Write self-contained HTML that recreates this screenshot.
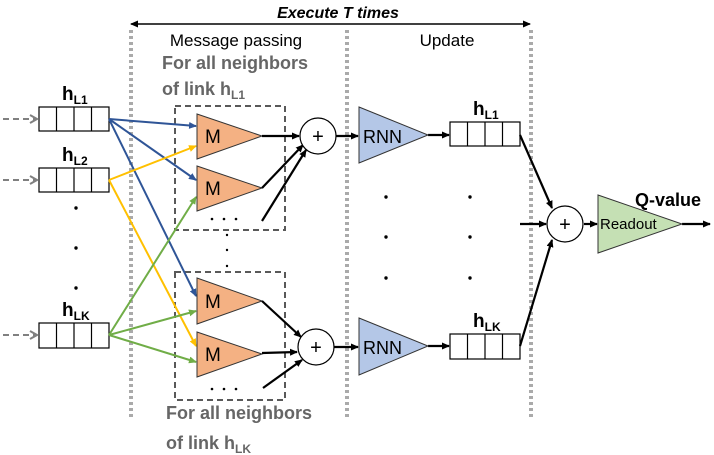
<!DOCTYPE html>
<html><head><meta charset="utf-8"><style>
html,body{margin:0;padding:0;background:#fff;}
svg{display:block;font-family:"Liberation Sans","DejaVu Sans",sans-serif;}
</style></head><body>
<svg width="714" height="455" viewBox="0 0 714 455" xmlns="http://www.w3.org/2000/svg">
<defs>
<marker id="ak" markerWidth="8" markerHeight="8" refX="7" refY="4" orient="auto" markerUnits="userSpaceOnUse"><path d="M0,0.5 L8,4 L0,7.5 Z" fill="#000"/></marker>
<marker id="ab" markerWidth="8" markerHeight="8" refX="7" refY="4" orient="auto" markerUnits="userSpaceOnUse"><path d="M0,0.5 L8,4 L0,7.5 Z" fill="#2f5597"/></marker>
<marker id="ay" markerWidth="8" markerHeight="8" refX="7" refY="4" orient="auto" markerUnits="userSpaceOnUse"><path d="M0,0.5 L8,4 L0,7.5 Z" fill="#ffc000"/></marker>
<marker id="ag" markerWidth="8" markerHeight="8" refX="7" refY="4" orient="auto" markerUnits="userSpaceOnUse"><path d="M0,0.5 L8,4 L0,7.5 Z" fill="#70ad47"/></marker>
<marker id="agr" markerWidth="9" markerHeight="10" refX="8" refY="5" orient="auto" markerUnits="userSpaceOnUse"><path d="M1,1 L8,5 L1,9" fill="none" stroke="#808080" stroke-width="2"/></marker>
<marker id="as" markerWidth="8" markerHeight="8" refX="1" refY="4" orient="auto" markerUnits="userSpaceOnUse"><path d="M8,0.5 L0,4 L8,7.5 Z" fill="#000"/></marker>
</defs>

<text x="338" y="18" font-size="16" font-weight="bold" font-style="italic" text-anchor="middle">Execute T times</text>
<line x1="131" y1="24" x2="530" y2="24" stroke="#000" stroke-width="1.5" marker-start="url(#as)" marker-end="url(#ak)"/>

<g stroke="#aaa" stroke-width="4" stroke-dasharray="3,3">
<line x1="131" y1="30" x2="131" y2="418"/>
<line x1="347" y1="30" x2="347" y2="418"/>
<line x1="531" y1="30" x2="531" y2="418"/>
</g>

<text x="236" y="46" font-size="17" text-anchor="middle">Message passing</text>
<text x="447" y="46" font-size="17" text-anchor="middle">Update</text>
<text x="162" y="69" font-size="18" font-weight="bold" fill="#666">For all neighbors</text>
<text x="162" y="95" font-size="18" font-weight="bold" fill="#666">of link h<tspan font-size="12" dy="4">L1</tspan></text>
<text x="166" y="419" font-size="18" font-weight="bold" fill="#666">For all neighbors</text>
<text x="166" y="449" font-size="18" font-weight="bold" fill="#666">of link h<tspan font-size="12" dy="4">LK</tspan></text>

<rect x="175" y="106" width="110" height="124" fill="none" stroke="#595959" stroke-width="2" stroke-dasharray="6,4"/>
<rect x="175" y="272" width="110" height="128" fill="none" stroke="#595959" stroke-width="2" stroke-dasharray="6,4"/>

<g stroke="#000" stroke-width="1.2" fill="#fff">
<rect x="39" y="107" width="70" height="24"/><line x1="56.5" y1="107" x2="56.5" y2="131"/><line x1="74" y1="107" x2="74" y2="131"/><line x1="91.5" y1="107" x2="91.5" y2="131"/>
<rect x="39" y="168" width="70" height="24"/><line x1="56.5" y1="168" x2="56.5" y2="192"/><line x1="74" y1="168" x2="74" y2="192"/><line x1="91.5" y1="168" x2="91.5" y2="192"/>
<rect x="39" y="323" width="70" height="25"/><line x1="56.5" y1="323" x2="56.5" y2="348"/><line x1="74" y1="323" x2="74" y2="348"/><line x1="91.5" y1="323" x2="91.5" y2="348"/>
<rect x="450" y="122" width="70" height="24"/><line x1="467.5" y1="122" x2="467.5" y2="146"/><line x1="485" y1="122" x2="485" y2="146"/><line x1="502.5" y1="122" x2="502.5" y2="146"/>
<rect x="450" y="334" width="70" height="25"/><line x1="467.5" y1="334" x2="467.5" y2="359"/><line x1="485" y1="334" x2="485" y2="359"/><line x1="502.5" y1="334" x2="502.5" y2="359"/>
</g>
<text x="62" y="100" font-size="19" font-weight="bold">h<tspan font-size="12" dy="4">L1</tspan></text>
<text x="62" y="161" font-size="19" font-weight="bold">h<tspan font-size="12" dy="4">L2</tspan></text>
<text x="62" y="316" font-size="19" font-weight="bold">h<tspan font-size="12" dy="4">LK</tspan></text>
<text x="473" y="115" font-size="19" font-weight="bold">h<tspan font-size="12" dy="4">L1</tspan></text>
<text x="473" y="327" font-size="19" font-weight="bold">h<tspan font-size="12" dy="4">LK</tspan></text>

<g stroke="#808080" stroke-width="2" stroke-dasharray="6,4">
<line x1="3" y1="119" x2="37" y2="119" marker-end="url(#agr)"/>
<line x1="3" y1="180" x2="37" y2="180" marker-end="url(#agr)"/>
<line x1="3" y1="335" x2="37" y2="335" marker-end="url(#agr)"/>
</g>

<g fill="#000">
<circle cx="76" cy="208" r="1.7"/><circle cx="76" cy="248" r="1.7"/><circle cx="76" cy="288" r="1.7"/>
<circle cx="386" cy="197" r="1.7"/><circle cx="386" cy="237" r="1.7"/><circle cx="386" cy="278" r="1.7"/>
<circle cx="470" cy="197" r="1.7"/><circle cx="470" cy="237" r="1.7"/><circle cx="470" cy="278" r="1.7"/>
<circle cx="227" cy="235" r="1.2"/><circle cx="227" cy="250" r="1.2"/><circle cx="227" cy="266" r="1.2"/>
<circle cx="212" cy="219" r="1.3"/><circle cx="224" cy="219" r="1.3"/><circle cx="236" cy="219" r="1.3"/>
<circle cx="212" cy="389" r="1.3"/><circle cx="224" cy="389" r="1.3"/><circle cx="236" cy="389" r="1.3"/>
</g>

<g stroke-width="2" fill="none">
<line x1="109" y1="119" x2="196" y2="126" stroke="#2f5597" marker-end="url(#ab)"/>
<line x1="109" y1="119" x2="196" y2="180" stroke="#2f5597" marker-end="url(#ab)"/>
<line x1="109" y1="119" x2="196" y2="296" stroke="#2f5597" marker-end="url(#ab)"/>
<line x1="109" y1="180" x2="196" y2="146" stroke="#ffc000" marker-end="url(#ay)"/>
<line x1="109" y1="180" x2="196" y2="346" stroke="#ffc000" marker-end="url(#ay)"/>
<line x1="109" y1="335" x2="196" y2="197" stroke="#70ad47" marker-end="url(#ag)"/>
<line x1="109" y1="335" x2="196" y2="311" stroke="#70ad47" marker-end="url(#ag)"/>
<line x1="109" y1="335" x2="196" y2="362" stroke="#70ad47" marker-end="url(#ag)"/>
</g>

<g fill="#f4b183" stroke="#333" stroke-width="1">
<polygon points="197,114 262,136 197,159"/>
<polygon points="197,166 262,188 197,211"/>
<polygon points="197,278 262,301 197,324"/>
<polygon points="197,332 262,354 197,377"/>
</g>
<g font-size="19" fill="#000">
<text x="205" y="143">M</text><text x="205" y="195">M</text><text x="205" y="308">M</text><text x="205" y="361">M</text>
</g>

<g stroke="#000" stroke-width="2.2" fill="none">
<line x1="262" y1="136" x2="299" y2="136" marker-end="url(#ak)"/>
<line x1="262" y1="188" x2="303" y2="145" marker-end="url(#ak)"/>
<line x1="262" y1="221" x2="306" y2="150" marker-end="url(#ak)"/>
<line x1="262" y1="301" x2="301" y2="337" marker-end="url(#ak)"/>
<line x1="262" y1="353" x2="297" y2="352" marker-end="url(#ak)"/>
<line x1="263" y1="388" x2="302" y2="360" marker-end="url(#ak)"/>
<line x1="336" y1="136" x2="358" y2="136" marker-end="url(#ak)"/>
<line x1="334" y1="347" x2="358" y2="347" marker-end="url(#ak)"/>
<line x1="428" y1="135" x2="449" y2="135" marker-end="url(#ak)"/>
<line x1="428" y1="346" x2="449" y2="346" marker-end="url(#ak)"/>
<line x1="520" y1="135" x2="552" y2="208" marker-end="url(#ak)"/>
<line x1="520" y1="346" x2="552" y2="240" marker-end="url(#ak)"/>
<line x1="520" y1="224" x2="546" y2="224" marker-end="url(#ak)"/>
<line x1="584" y1="224" x2="597" y2="224" marker-end="url(#ak)"/>
<line x1="682" y1="224" x2="710" y2="224" marker-end="url(#ak)"/>
</g>

<g fill="#fff" stroke="#000" stroke-width="1.2">
<circle cx="318" cy="136" r="18"/><circle cx="316" cy="347" r="18"/><circle cx="565" cy="224" r="18"/>
</g>
<g font-size="20" text-anchor="middle"><text x="318" y="143">+</text><text x="316" y="354">+</text><text x="565" y="231">+</text></g>

<g fill="#b4c7e7" stroke="#333" stroke-width="1">
<polygon points="359,107 428,135 359,163"/>
<polygon points="359,318 428,346 359,375"/>
</g>
<text x="363" y="143" font-size="18">RNN</text>
<text x="363" y="354" font-size="18">RNN</text>

<polygon points="598,195 682,224 598,253" fill="#c5e0b4" stroke="#333" stroke-width="1"/>
<text x="600" y="229" font-size="15">Readout</text>
<text x="635" y="206" font-size="18" font-weight="bold">Q-value</text>
</svg>
</body></html>
